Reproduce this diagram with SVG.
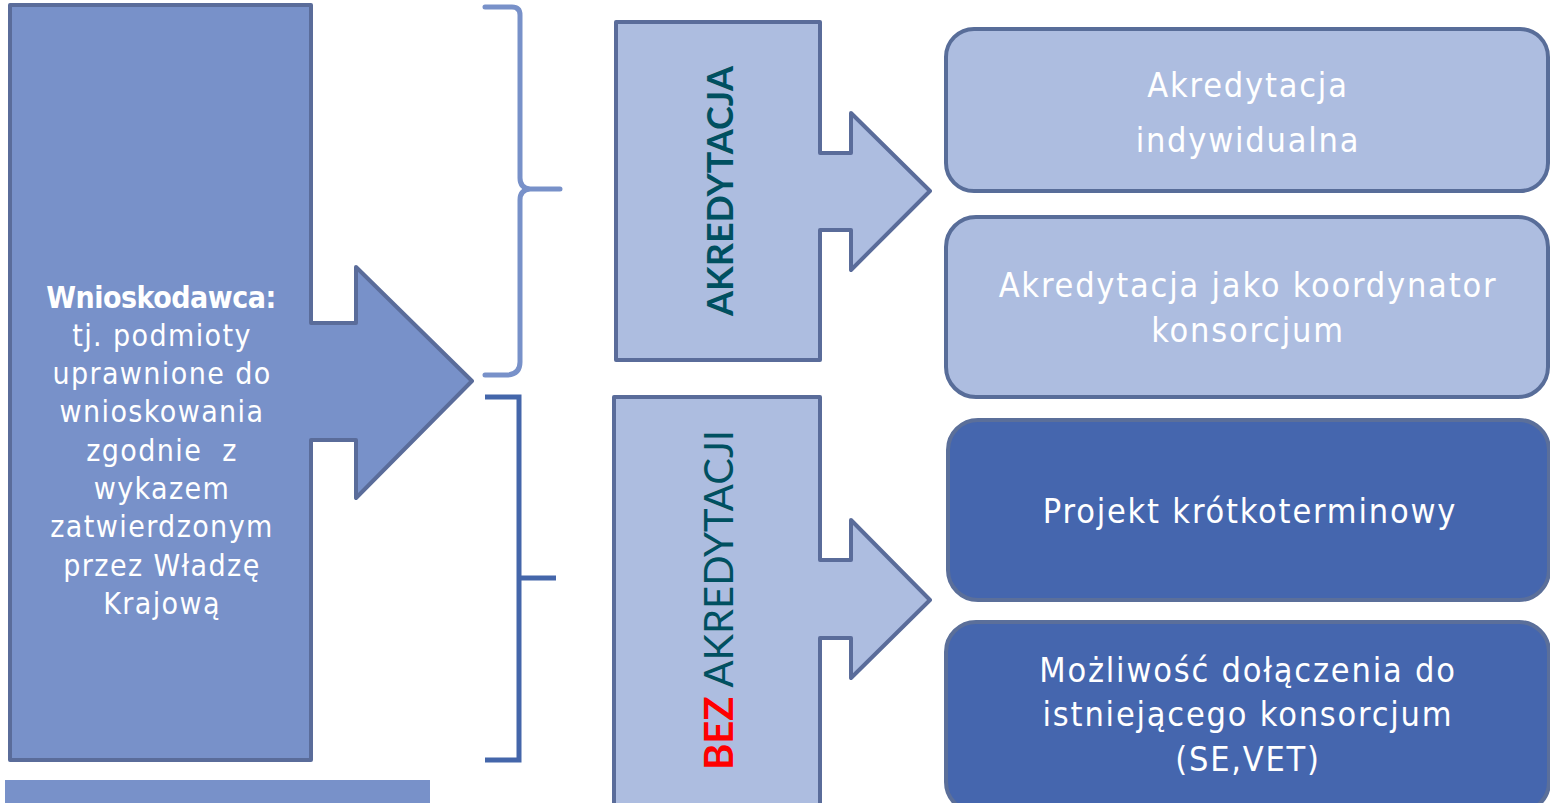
<svg xmlns="http://www.w3.org/2000/svg" width="1550" height="803" viewBox="0 0 1550 803">
<style>
.main{fill:#7891c9;stroke:#5a6c9a;stroke-width:4;stroke-linejoin:round}
.mid{fill:#adbde0;stroke:#5a6c9a;stroke-width:4;stroke-linejoin:round}
.lite{fill:#adbde0;stroke:#586d99;stroke-width:4}
.dark{fill:#4566ae;stroke:#5b6f9a;stroke-width:4}
.t{font-family:"DejaVu Sans",sans-serif;font-stretch:condensed;fill:#ffffff;text-anchor:middle}
.r{letter-spacing:1.8px}
.l{letter-spacing:1.4px}
.v{font-family:Lato,"Liberation Sans",sans-serif;fill:#005060;text-anchor:middle}
</style>
<rect x="0" y="0" width="1550" height="803" fill="#ffffff"/>
<g id="wnioskodawca">
<path class="main" d="M10,5 H311 V323 H356 V267 L472,381 L356,498 V440 H311 V760 H10 Z"/>
<g class="t" font-size="30">
<text x="161" y="308" font-weight="bold" letter-spacing="-0.5">Wnioskodawca:</text>
<text class="l" x="162" y="346">tj. podmioty</text>
<text class="l" x="162" y="384">uprawnione do</text>
<text class="l" x="162" y="422">wnioskowania</text>
<text class="l" x="162" y="461" style="white-space:pre">zgodnie  z</text>
<text class="l" x="162" y="499">wykazem</text>
<text class="l" x="162" y="537">zatwierdzonym</text>
<text class="l" x="162" y="576">przez Władzę</text>
<text class="l" x="162" y="614">Krajową</text>
</g>
</g>
<rect id="bottom-bar" x="5" y="780" width="425" height="23" fill="#7891c9"/>
<g id="connectors" fill="none" stroke-width="5">
<path d="M485,7 H512 Q520,7 520,15 V178 Q520,188 530,189 H560 M530,189 Q520,190 520,200 V362 Q520,374 508,375 H485" stroke="#7891c9" stroke-linecap="round"/>
<path d="M485,397 H519 V760 H485 M519,578 H556" stroke="#4466aa" stroke-linecap="butt"/>
</g>
<g id="akredytacja">
<path class="mid" d="M616,22 H820 V153 H851 V113 L930,191 L851,270 V230 H820 V360 H616 Z"/>
<text class="v" transform="translate(733,191) rotate(-90)" font-size="36" font-weight="bold">AKREDYTACJA</text>
</g>
<g id="bez-akredytacji">
<path class="mid" d="M614,397 H820 V560 H851 V520 L930,600 L851,678 V638 H820 V806 H614 Z"/>
<text class="v" transform="translate(733,600) rotate(-90)" font-size="40"><tspan font-weight="bold" fill="#ff0000">BEZ</tspan> AKREDYTACJI</text>
</g>
<g id="akredytacja-indywidualna">
<rect class="lite" x="946" y="29" width="602" height="162" rx="28"/>
<text class="t r" x="1248" y="97" font-size="34">Akredytacja</text>
<text class="t r" x="1248" y="152" font-size="34">indywidualna</text>
</g>
<g id="akredytacja-koordynator">
<rect class="lite" x="946" y="217" width="602" height="180" rx="30"/>
<text class="t r" x="1248" y="297" font-size="34">Akredytacja jako koordynator</text>
<text class="t r" x="1248" y="342" font-size="34">konsorcjum</text>
</g>
<g id="projekt-krotkoterminowy">
<rect class="dark" x="948" y="420" width="601" height="180" rx="30"/>
<text class="t r" x="1250" y="523" font-size="34">Projekt krótkoterminowy</text>
</g>
<g id="mozliwosc">
<rect class="dark" x="946" y="622" width="603" height="190" rx="30"/>
<text class="t r" x="1248" y="682" font-size="34">Możliwość dołączenia do</text>
<text class="t r" x="1248" y="726" font-size="34">istniejącego konsorcjum</text>
<text class="t r" x="1248" y="771" font-size="34">(SE,VET)</text>
</g>
</svg>
